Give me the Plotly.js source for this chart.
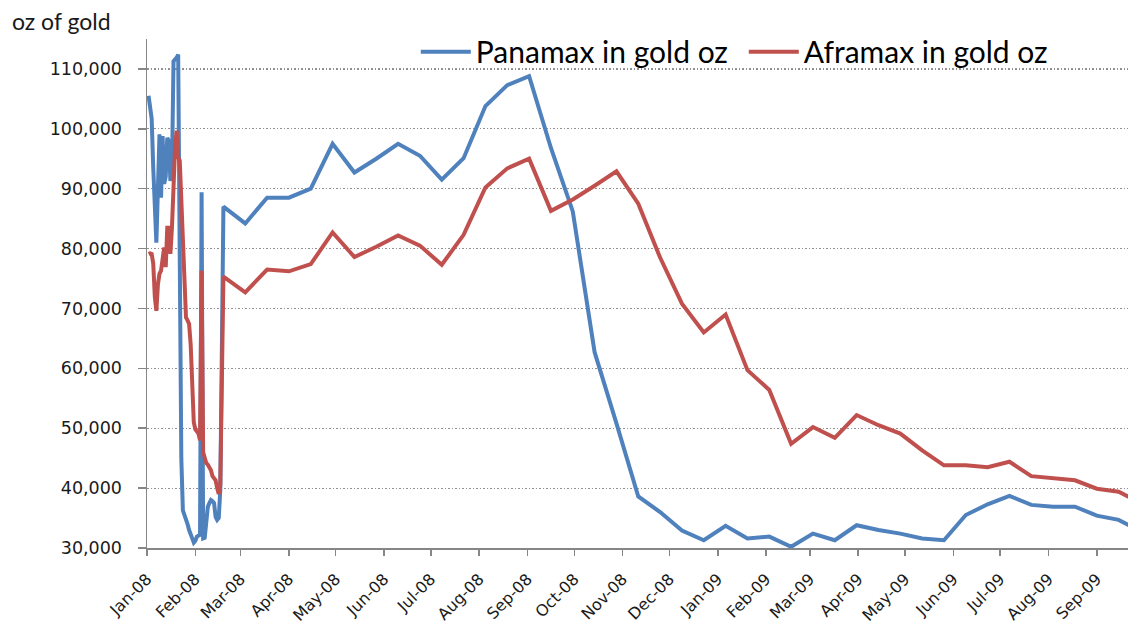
<!DOCTYPE html>
<html>
<head>
<meta charset="utf-8">
<script src="https://cdn.plot.ly/plotly-3.0.1.min.js"></script>
<style>
  html, body { margin: 0; padding: 0; background: #ffffff; }
  #chart { width: 1128px; height: 627px; }
</style>
</head>
<body>
<div id="chart"></div>
<script>
// Observation dates (daily in Jan-Feb 2008, then fortnightly)
const dates = [
  "2008-01-02","2008-01-03","2008-01-04","2008-01-05","2008-01-06","2008-01-07","2008-01-08",
  "2008-01-09","2008-01-10","2008-01-11","2008-01-12","2008-01-13","2008-01-14","2008-01-15",
  "2008-01-16","2008-01-17","2008-01-18","2008-01-19","2008-01-20","2008-01-21","2008-01-22",
  "2008-01-23","2008-01-24","2008-01-25","2008-01-26","2008-01-27","2008-01-28","2008-01-29",
  "2008-01-30","2008-01-31","2008-02-01","2008-02-02","2008-02-03","2008-02-04","2008-02-05",
  "2008-02-06","2008-02-07","2008-02-08","2008-02-09","2008-02-10","2008-02-11","2008-02-12",
  "2008-02-13","2008-02-14","2008-02-15","2008-02-16","2008-02-17","2008-02-19",
  "2008-03-04","2008-03-18","2008-04-01","2008-04-15","2008-04-29","2008-05-13","2008-05-27",
  "2008-06-10","2008-06-24","2008-07-08","2008-07-22","2008-08-05","2008-08-19","2008-09-02",
  "2008-09-16","2008-09-30","2008-10-14","2008-10-28","2008-11-11","2008-11-25","2008-12-09",
  "2008-12-23","2009-01-06","2009-01-20","2009-02-03","2009-02-17","2009-03-03","2009-03-17",
  "2009-03-31","2009-04-14","2009-04-28","2009-05-12","2009-05-26","2009-06-09","2009-06-23",
  "2009-07-07","2009-07-21","2009-08-04","2009-08-18","2009-09-01","2009-09-15","2009-09-29"
];

const panamax = [
  105500,104000,101700,93500,84500,81000,90000,
  99100,88500,98800,90800,92000,98500,98000,
  91300,93000,111300,111500,111900,112400,76000,
  45000,36300,35500,35200,34000,33000,32000,
  31600,30900,31200,31900,32000,32200,89400,
  31600,31700,34500,36900,37500,38000,37800,
  37500,35200,34700,35000,39700,87000,
  84200,88500,88500,90000,97500,92700,95000,
  97500,95500,91500,95100,103800,107300,108800,
  96800,86200,62700,50800,38600,36000,32900,
  31300,33700,31600,31900,30200,32400,31300,
  33800,33000,32400,31600,31300,35500,37300,
  38700,37200,36900,36900,35400,34700,32800
];

const aframax = [
  79100,79200,79100,77500,72000,69600,74000,
  75800,76300,79100,80200,76900,83500,83500,
  79100,83500,91300,96900,99700,95200,94700,
  89000,83500,76300,68500,68000,67400,64000,
  58000,51000,49800,49300,49100,48000,76300,
  46000,44700,44200,43900,43500,43000,42000,
  41600,41300,40000,39000,40500,75300,
  72700,76500,76200,77400,82700,78600,80300,
  82200,80500,77300,82300,90200,93400,95000,
  86300,88200,90500,92900,87500,78500,70800,
  66000,69000,59700,56400,47400,50200,48400,
  52200,50500,49100,46300,43800,43800,43500,
  44400,42000,41600,41300,39900,39400,37500
];

const seriesNames = ["Panamax in gold oz", "Aframax in gold oz"];

const monthTicks = [
  "2008-01-01","2008-02-01","2008-03-01","2008-04-01","2008-05-01","2008-06-01","2008-07-01",
  "2008-08-01","2008-09-01","2008-10-01","2008-11-01","2008-12-01","2009-01-01","2009-02-01",
  "2009-03-01","2009-04-01","2009-05-01","2009-06-01","2009-07-01","2009-08-01","2009-09-01"
];
const monthLabels = [
  "Jan-08","Feb-08","Mar-08","Apr-08","May-08","Jun-08","Jul-08","Aug-08","Sep-08","Oct-08",
  "Nov-08","Dec-08","Jan-09","Feb-09","Mar-09","Apr-09","May-09","Jun-09","Jul-09","Aug-09","Sep-09"
];
const yTicks = [30000,40000,50000,60000,70000,80000,90000,100000,110000];
const yTitle = "oz of gold";

const tickFontY = {family: "DejaVu Sans, Verdana, sans-serif", size: 17.5, color: "#1a1a1a"};
const tickFontX = {family: "DejaVu Sans, Verdana, sans-serif", size: 16, color: "#1a1a1a"};

const traces = [
  {x: dates, y: panamax, name: seriesNames[0], type: "scatter", mode: "lines",
   line: {color: "#4F81BD", width: 4}},
  {x: dates, y: aframax, name: seriesNames[1], type: "scatter", mode: "lines",
   line: {color: "#C0504D", width: 4}}
];

const layout = {
  width: 1128, height: 627,
  margin: {l: 147, r: 0, t: 39, b: 79, pad: 0},
  paper_bgcolor: "#ffffff", plot_bgcolor: "#ffffff",
  showlegend: true,
  legend: {
    orientation: "h", x: 0.274, xanchor: "left", y: 0.975, yanchor: "middle",
    font: {family: "Lato, DejaVu Sans, sans-serif", size: 30, color: "#000000"},
    bgcolor: "rgba(0,0,0,0)", itemwidth: 50, entrywidth: 263, entrywidthmode: "pixels"
  },
  xaxis: {
    type: "date", range: ["2008-01-01", "2009-09-21"],
    tickmode: "array", tickvals: monthTicks, ticktext: monthLabels,
    tickangle: -45, tickfont: tickFontX, ticklabelstandoff: 8,
    ticks: "outside", ticklen: 6, tickcolor: "#868686", tickwidth: 1.5,
    showline: true, linecolor: "#868686", linewidth: 1.5,
    showgrid: false, zeroline: false, fixedrange: true
  },
  yaxis: {
    range: [30000, 115000],
    tickmode: "array", tickvals: yTicks, tickformat: ",d",
    tickfont: tickFontY, ticklabelstandoff: 12,
    ticks: "outside", ticklen: 8, tickcolor: "#868686", tickwidth: 1.5,
    showline: true, linecolor: "#868686", linewidth: 1.5,
    showgrid: true, gridcolor: "#909090", gridwidth: 1.2, griddash: "1.5px,2px",
    zeroline: false, fixedrange: true
  },
  annotations: [{
    text: yTitle, xref: "paper", yref: "paper",
    x: -0.1397, xanchor: "left", y: 1.036, yanchor: "middle",
    showarrow: false,
    font: {family: "Lato, DejaVu Sans, sans-serif", size: 23, color: "#1a1a1a"}
  }]
};

Plotly.newPlot("chart", traces, layout, {staticPlot: true, displayModeBar: false});
</script>
</body>
</html>
